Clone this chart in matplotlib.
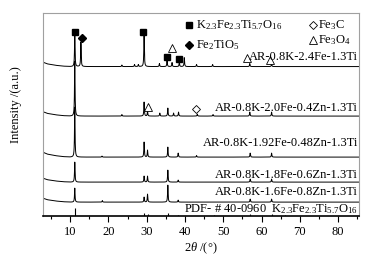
import numpy as np
import matplotlib.pyplot as plt

plt.rcParams['font.family'] = ['Liberation Serif', 'DejaVu Serif']
plt.rcParams['mathtext.fontset'] = 'custom'
plt.rcParams['mathtext.rm'] = 'Liberation Serif'
plt.rcParams['mathtext.it'] = 'Liberation Serif:italic'

# samples, top to bottom
labels = ['AR-0.8K-2.4Fe-1.3Ti', 'AR-0.8K-2.0Fe-0.4Zn-1.3Ti', 'AR-0.8K-1.92Fe-0.48Zn-1.3Ti',
          'AR-0.8K-1.8Fe-0.6Zn-1.3Ti', 'AR-0.8K-1.6Fe-0.8Zn-1.3Ti']
offsets = [149.5, 100, 59, 34, 14]
label_y = [159, 108, 73, 41, 24]
low_angle_rise = [4.5, 4.5, 5, 4, 4]

# peak positions (2theta) and heights for each sample
peak_pos = [
    [11.2, 12.8, 23.5, 26.8, 27.8, 29.3, 33.3, 35.3, 36.6, 38.5, 39.8, 43.0, 47.2, 56.9, 62.6],
    [11.2, 23.5, 29.3, 30.2, 33.4, 35.5, 37.0, 38.3, 43.2, 47.3, 56.9, 62.6],
    [11.2, 18.3, 29.3, 30.2, 35.5, 38.2, 43.0, 57.0, 62.6],
    [11.2, 29.3, 30.2, 35.5, 38.2, 57.0, 62.6],
    [11.2, 18.4, 29.3, 30.2, 35.5, 38.2, 57.0, 62.6],
]
peak_int = [
    [33.5, 24.5, 1.5, 2, 2, 33.5, 3, 6.5, 4, 4.5, 9, 2, 2, 3, 3],
    [55, 1.5, 14, 5, 3, 8, 3, 4, 2, 1.5, 4, 4],
    [50, 1, 15, 7, 10, 4, 1.5, 4, 4],
    [20, 6, 6, 12, 2, 3, 3],
    [14, 1.5, 5, 8, 17, 2, 3, 3],
]

# reference pattern PDF #40-0960
pdf_pos = [11.2, 29.3, 30.2, 35.5, 38.2, 47.5, 57.0, 62.6, 66.0]
pdf_int = [8, 3, 2, 3, 1.5, 1.5, 2, 2, 1.5]

# phase markers: (2theta, height)
k_marks = [(11.3, 184), (29.1, 184), (35.3, 159), (38.5, 157)]
fe2tio5_marks = [(13.1, 178)]
fe3o4_marks = [(36.6, 168), (56.2, 158), (62.2, 156), (30.4, 109)]
fe3c_marks = [(42.9, 107)]

fig = plt.figure(figsize=(3.77, 2.61), dpi=100)
ax = fig.add_axes([0.113, 0.172, 0.838, 0.778])

x = np.linspace(2.8, 85.3, 6000)
w = 0.08
bg_x = [2.8, 4, 6, 8, 10]
bg_f = [1, 0.6, 0.3, 0.1, 0]
for i in range(len(labels)):
    y = offsets[i] + low_angle_rise[i] * np.interp(x, bg_x, bg_f)
    for p, h in zip(peak_pos[i], peak_int[i]):
        y = y + h * w ** 2 / ((x - p) ** 2 + w ** 2)
    ax.plot(x, y, color='black', lw=0.7)
    ax.text(85.1, label_y[i], labels[i], ha='right', va='center', fontsize=9)

ax.vlines(pdf_pos, 0, pdf_int, color='black', lw=0.8)
ax.text(85.1, 7, 'PDF- # 40-0960  K$_{2.3}$Fe$_{2.3}$Ti$_{5.7}$O$_{16}$',
        ha='right', va='center', fontsize=9)

ms = dict(linestyle='none', color='black')
ax.plot(*zip(*k_marks), marker='s', markersize=5, **ms)
ax.plot(*zip(*fe2tio5_marks), marker='D', markersize=4.5, **ms)
ax.plot(*zip(*fe3o4_marks), marker='^', markersize=6, markerfacecolor='white',
        markeredgewidth=0.6, **ms)
ax.plot(*zip(*fe3c_marks), marker='D', markersize=4.5, markerfacecolor='white',
        markeredgewidth=0.6, **ms)

# legend drawn by hand
lx1, lx2 = 0.464, 0.856
ax.plot([lx1], [0.942], marker='s', markersize=5, transform=ax.transAxes, **ms)
ax.plot([lx1], [0.843], marker='D', markersize=4.5, transform=ax.transAxes, **ms)
ax.plot([lx2], [0.942], marker='D', markersize=4.5, markerfacecolor='white',
        markeredgewidth=0.6, transform=ax.transAxes, **ms)
ax.plot([lx2], [0.867], marker='^', markersize=6, markerfacecolor='white',
        markeredgewidth=0.6, transform=ax.transAxes, **ms)
ax.text(lx1 + 0.02, 0.942, 'K$_{2.3}$Fe$_{2.3}$Ti$_{5.7}$O$_{16}$', transform=ax.transAxes,
        va='center', fontsize=9)
ax.text(lx1 + 0.02, 0.843, 'Fe$_2$TiO$_5$', transform=ax.transAxes, va='center', fontsize=9)
ax.text(lx2 + 0.016, 0.942, 'Fe$_3$C', transform=ax.transAxes, va='center', fontsize=9)
ax.text(lx2 + 0.016, 0.867, 'Fe$_3$O$_4$', transform=ax.transAxes, va='center', fontsize=9)

ax.set_xlim(2.8, 85.3)
ax.set_ylim(0, 203)
ax.set_xticks(range(10, 90, 10))
ax.set_xticks(range(5, 90, 10), minor=True)
ax.set_yticks([])
ax.tick_params(axis='x', which='major', length=4, width=0.8, labelsize=9, pad=3)
ax.tick_params(axis='x', which='minor', length=2.5, width=0.8)
for s in ['top', 'right', 'left']:
    ax.spines[s].set_color('#a0a0a0')
    ax.spines[s].set_linewidth(0.8)
ax.spines['bottom'].set_linewidth(1.2)
ax.set_xlabel(r'$2\theta$ /(°)', fontsize=9, labelpad=2)
ax.set_ylabel('Intensity /(a.u.)', fontsize=9)
ax.yaxis.set_label_coords(-0.065, 0.55)

fig.savefig('out.png', dpi=100)
